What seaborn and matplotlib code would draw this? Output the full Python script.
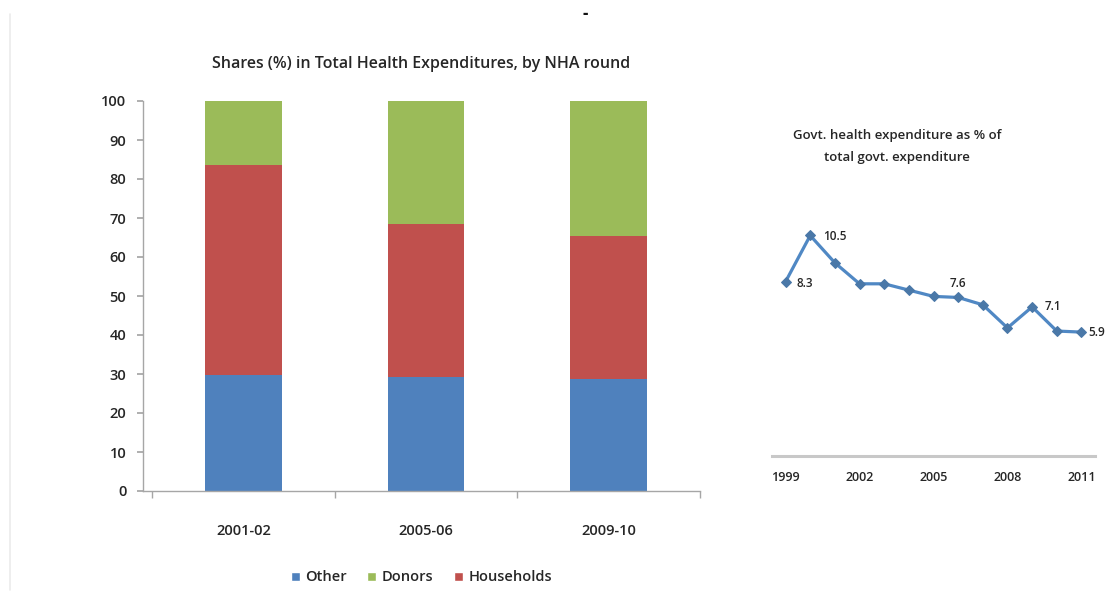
import numpy as np
import pandas as pd
import matplotlib
matplotlib.use("Agg")
import matplotlib.pyplot as plt
from matplotlib.patches import Patch
from matplotlib.lines import Line2D
import seaborn as sns

# ---- data ----
rounds = ["2001-02", "2005-06", "2009-10"]
other = [29.7, 29.3, 28.7]
households = [53.9, 39.2, 36.8]
donors = [16.4, 31.5, 34.5]

years = [1999, 2000, 2001, 2002, 2003, 2004, 2005, 2006, 2007, 2008, 2009, 2010, 2011]
govt_share = [8.3, 10.5, 9.2, 8.2, 8.2, 7.9, 7.6, 7.55, 7.2, 6.1, 7.1, 5.95, 5.9]
labelled_years = {1999: "8.3", 2000: "10.5", 2006: "7.6", 2009: "7.1", 2011: "5.9"}
line_ticks = [1999, 2002, 2005, 2008, 2011]

legend_labels = ["Other", "Donors", "Households"]

# ---- style ----
sns.set_theme(style="white")
plt.rcParams["font.family"] = ["Open Sans", "DejaVu Sans"]
TXT = "#262626"
BLUE, RED, GREEN = "#4F81BD", "#C0504D", "#9BBB59"
LINE = "#5088C4"
MARK = "#4A78A8"
SPINE = "#A6A6A6"

fig = plt.figure(figsize=(11.09, 6.01), dpi=100)
fig.patch.set_facecolor("white")

# faint frame line at the left edge
fig.add_artist(Line2D([10 / 1109, 10 / 1109], [1 - 14 / 601, 1 - 590 / 601],
                      color="#EBEBEB", linewidth=1.2))

# ---- left: stacked bars ----
ax = fig.add_axes([143 / 1109, 1 - 491 / 601, 557 / 1109, 390 / 601])
df = pd.DataFrame({"round": rounds, "other": other,
                   "households": households, "donors": donors})
df["lvl2"] = df["other"] + df["households"]
df["lvl3"] = df["lvl2"] + df["donors"]

for col, c in [("lvl3", GREEN), ("lvl2", RED), ("other", BLUE)]:
    sns.barplot(data=df, x="round", y=col, color=c, saturation=1,
                width=0.42, ax=ax, order=rounds, linewidth=0)

ax.set_xlim(-0.55, 2.46)
ax.set_ylim(0, 100)
ax.set_yticks(np.arange(0, 101, 10))
ax.set_xlabel("")
ax.set_ylabel("")
for s in ["top", "right"]:
    ax.spines[s].set_visible(False)
for s in ["left", "bottom"]:
    ax.spines[s].set_color(SPINE)
    ax.spines[s].set_linewidth(1.0)
ax.tick_params(axis="y", which="major", left=True, length=4, color=SPINE,
               labelsize=10.5, labelcolor=TXT, pad=8)
ax.tick_params(axis="x", which="major", bottom=False, labelsize=10.5,
               labelcolor=TXT, pad=18)
ax.set_xticks([-0.5, 0.5, 1.5, 2.5], minor=True)
ax.tick_params(axis="x", which="minor", bottom=True, length=5, color=SPINE)
for lab in ax.get_xticklabels() + ax.get_yticklabels():
    lab.set_fontweight("semibold")

ax.set_title("Shares (%) in Total Health Expenditures, by NHA round",
             fontsize=11.5, color=TXT, pad=24, fontweight="semibold")

handles = [Patch(facecolor=BLUE), Patch(facecolor=GREEN), Patch(facecolor=RED)]
leg = ax.legend(handles, legend_labels, loc="upper center",
                bbox_to_anchor=(0.5, -0.17), ncol=3, frameon=False,
                handlelength=0.6, handleheight=0.6, handletextpad=0.4,
                columnspacing=1.4, fontsize=10.5)
for t in leg.get_texts():
    t.set_color(TXT)
    t.set_fontweight("semibold")

# ---- right: line chart ----
ax2 = fig.add_axes([772 / 1109, 1 - 456 / 601, 323 / 1109, 252 / 601])
ldf = pd.DataFrame({"year": years, "share": govt_share})
sns.lineplot(data=ldf, x="year", y="share", ax=ax2, color=LINE,
             linewidth=2.3, marker="D", markersize=5.5,
             markeredgecolor=MARK, markerfacecolor=MARK)
ax2.set_xlim(1998.45, 2011.55)
ax2.set_ylim(0, 12)
ax2.set_xticks(line_ticks)
ax2.set_xticklabels([str(y) for y in line_ticks])
ax2.set_yticks([])
ax2.set_xlabel("")
ax2.set_ylabel("")
for s in ["top", "right", "left"]:
    ax2.spines[s].set_visible(False)
ax2.spines["bottom"].set_color("#C8C8C8")
ax2.spines["bottom"].set_linewidth(2.2)
ax2.tick_params(axis="x", bottom=False, labelsize=9, labelcolor=TXT, pad=5)
for lab in ax2.get_xticklabels():
    lab.set_fontweight("semibold")

offsets = {1999: (8, -1, "left"), 2000: (9, -1, "left"), 2006: (0, 10, "center"),
           2009: (9, 0, "left"), 2011: (5, 0, "left")}
for y, v in zip(years, govt_share):
    if y in labelled_years:
        dx, dy, ha = offsets[y]
        ax2.annotate(labelled_years[y], xy=(y, v), xytext=(dx, dy),
                     textcoords="offset points", fontsize=8.5, color=TXT,
                     fontweight="semibold", ha=ha, va="center",
                     annotation_clip=False)

fig.text(897 / 1109, 1 - 136 / 601, "Govt. health expenditure as % of",
         ha="center", va="center", fontsize=9.5, color=TXT, fontweight="semibold")
fig.text(897 / 1109, 1 - 158 / 601, "total govt. expenditure",
         ha="center", va="center", fontsize=9.5, color=TXT, fontweight="semibold")

fig.text(585 / 1109, 1 - 14 / 601, "-", ha="center", va="center",
         fontsize=12, color="#111111", fontweight="bold")

fig.savefig("out.png", dpi=100, facecolor="white")
